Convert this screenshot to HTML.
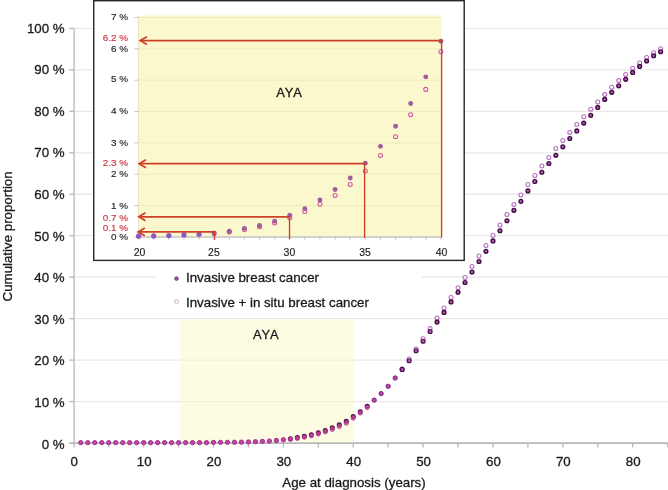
<!DOCTYPE html>
<html lang="en">
<head>
<meta charset="utf-8">
<title>Cumulative proportion by age at diagnosis</title>
<style>
html,body{margin:0;padding:0;background:#fff;}
body{width:668px;height:490px;overflow:hidden;}
svg{display:block;font-family:"Liberation Sans",Arial,Helvetica,sans-serif;}
.ax{font-size:13.3px;fill:#1a1a1a;stroke:#1a1a1a;stroke-width:0.3px;}
.in{font-size:9.9px;fill:#1f1f1f;stroke:#1f1f1f;stroke-width:0.15px;}
.rd{font-size:9.9px;fill:#cf3d45;stroke:#cf3d45;stroke-width:0.2px;}
</style>
</head>
<body>
<svg width="668" height="490" viewBox="0 0 668 490">
<rect x="0" y="0" width="668" height="490" fill="#ffffff"/>

<g stroke="#e9e9e9" stroke-width="1.3">
<line x1="75" y1="401.54" x2="668" y2="401.54"/>
<line x1="75" y1="360.08" x2="668" y2="360.08"/>
<line x1="75" y1="318.62" x2="668" y2="318.62"/>
<line x1="75" y1="277.16" x2="668" y2="277.16"/>
<line x1="75" y1="235.70" x2="668" y2="235.70"/>
<line x1="75" y1="194.24" x2="668" y2="194.24"/>
<line x1="75" y1="152.78" x2="668" y2="152.78"/>
<line x1="75" y1="111.32" x2="668" y2="111.32"/>
<line x1="75" y1="69.86" x2="668" y2="69.86"/>
<line x1="75" y1="28.40" x2="668" y2="28.40"/>
</g>
<rect x="179.9" y="319.42" width="173.9" height="123.18" fill="#fdfce3"/>
<line x1="179.9" y1="401.54" x2="353.8" y2="401.54" stroke="#f1eed3" stroke-width="1"/>
<line x1="179.9" y1="360.08" x2="353.8" y2="360.08" stroke="#f1eed3" stroke-width="1"/>
<g stroke="#b9b9b9" stroke-width="1.3" fill="none">
<line x1="74.1" y1="28.40" x2="74.1" y2="447.3"/>
<line x1="69.3" y1="443.10" x2="668" y2="443.10" stroke-width="1.6"/>
<line x1="69.3" y1="401.54" x2="74.1" y2="401.54"/>
<line x1="69.3" y1="360.08" x2="74.1" y2="360.08"/>
<line x1="69.3" y1="318.62" x2="74.1" y2="318.62"/>
<line x1="69.3" y1="277.16" x2="74.1" y2="277.16"/>
<line x1="69.3" y1="235.70" x2="74.1" y2="235.70"/>
<line x1="69.3" y1="194.24" x2="74.1" y2="194.24"/>
<line x1="69.3" y1="152.78" x2="74.1" y2="152.78"/>
<line x1="69.3" y1="111.32" x2="74.1" y2="111.32"/>
<line x1="69.3" y1="69.86" x2="74.1" y2="69.86"/>
<line x1="69.3" y1="28.40" x2="74.1" y2="28.40"/>
<line x1="108.73" y1="443.00" x2="108.73" y2="447.6"/>
<line x1="143.66" y1="443.00" x2="143.66" y2="447.6"/>
<line x1="178.59" y1="443.00" x2="178.59" y2="447.6"/>
<line x1="213.52" y1="443.00" x2="213.52" y2="447.6"/>
<line x1="248.45" y1="443.00" x2="248.45" y2="447.6"/>
<line x1="283.38" y1="443.00" x2="283.38" y2="447.6"/>
<line x1="318.31" y1="443.00" x2="318.31" y2="447.6"/>
<line x1="353.24" y1="443.00" x2="353.24" y2="447.6"/>
<line x1="388.17" y1="443.00" x2="388.17" y2="447.6"/>
<line x1="423.10" y1="443.00" x2="423.10" y2="447.6"/>
<line x1="458.03" y1="443.00" x2="458.03" y2="447.6"/>
<line x1="492.96" y1="443.00" x2="492.96" y2="447.6"/>
<line x1="527.89" y1="443.00" x2="527.89" y2="447.6"/>
<line x1="562.82" y1="443.00" x2="562.82" y2="447.6"/>
<line x1="597.75" y1="443.00" x2="597.75" y2="447.6"/>
<line x1="632.68" y1="443.00" x2="632.68" y2="447.6"/>
<line x1="667.61" y1="443.00" x2="667.61" y2="447.6"/>
</g>
<g class="ax" text-anchor="end">
<text x="64.6" y="448.55">0 %</text>
<text x="64.6" y="406.97">10 %</text>
<text x="64.6" y="365.39">20 %</text>
<text x="64.6" y="323.81">30 %</text>
<text x="64.6" y="282.23">40 %</text>
<text x="64.6" y="240.65">50 %</text>
<text x="64.6" y="199.07">60 %</text>
<text x="64.6" y="157.49">70 %</text>
<text x="64.6" y="115.91">80 %</text>
<text x="64.6" y="74.33">90 %</text>
<text x="64.6" y="32.75">100 %</text>
</g>
<g class="ax" text-anchor="middle">
<text x="74.30" y="465.9">0</text>
<text x="144.16" y="465.9">10</text>
<text x="214.02" y="465.9">20</text>
<text x="283.88" y="465.9">30</text>
<text x="353.74" y="465.9">40</text>
<text x="423.60" y="465.9">50</text>
<text x="493.46" y="465.9">60</text>
<text x="563.32" y="465.9">70</text>
<text x="633.18" y="465.9">80</text>
<text x="354" y="487.0">Age at diagnosis (years)</text>
<text transform="translate(11.6,236.4) rotate(-90)">Cumulative proportion</text>
</g>
<rect x="155" y="262" width="266.5" height="55.6" fill="#ffffff"/>
<text class="ax" x="253.1" y="339.1" style="font-size:12.9px" letter-spacing="0.85">AYA</text>
<g>
<circle cx="80.79" cy="442.65" r="2.15" fill="#c445aa" stroke="#9e2e8e" stroke-width="1.0"/>
<circle cx="87.77" cy="442.65" r="2.15" fill="#c445aa" stroke="#9e2e8e" stroke-width="1.0"/>
<circle cx="94.76" cy="442.65" r="2.15" fill="#c445aa" stroke="#9e2e8e" stroke-width="1.0"/>
<circle cx="101.74" cy="442.65" r="2.15" fill="#c445aa" stroke="#9e2e8e" stroke-width="1.0"/>
<circle cx="108.73" cy="442.65" r="2.15" fill="#c445aa" stroke="#9e2e8e" stroke-width="1.0"/>
<circle cx="115.72" cy="442.65" r="2.15" fill="#c445aa" stroke="#9e2e8e" stroke-width="1.0"/>
<circle cx="122.70" cy="442.65" r="2.15" fill="#c445aa" stroke="#9e2e8e" stroke-width="1.0"/>
<circle cx="129.69" cy="442.65" r="2.15" fill="#c445aa" stroke="#9e2e8e" stroke-width="1.0"/>
<circle cx="136.67" cy="442.65" r="2.15" fill="#c445aa" stroke="#9e2e8e" stroke-width="1.0"/>
<circle cx="143.66" cy="442.65" r="2.15" fill="#c445aa" stroke="#9e2e8e" stroke-width="1.0"/>
<circle cx="150.65" cy="442.65" r="2.15" fill="#c445aa" stroke="#9e2e8e" stroke-width="1.0"/>
<circle cx="157.63" cy="442.65" r="2.15" fill="#c445aa" stroke="#9e2e8e" stroke-width="1.0"/>
<circle cx="164.62" cy="442.65" r="2.15" fill="#c445aa" stroke="#9e2e8e" stroke-width="1.0"/>
<circle cx="171.60" cy="442.65" r="2.15" fill="#c445aa" stroke="#9e2e8e" stroke-width="1.0"/>
<circle cx="178.59" cy="442.65" r="2.15" fill="#c445aa" stroke="#9e2e8e" stroke-width="1.0"/>
<circle cx="185.58" cy="442.65" r="2.15" fill="#c445aa" stroke="#9e2e8e" stroke-width="1.0"/>
<circle cx="192.56" cy="442.65" r="2.15" fill="#c445aa" stroke="#9e2e8e" stroke-width="1.0"/>
<circle cx="199.55" cy="442.65" r="2.15" fill="#c445aa" stroke="#9e2e8e" stroke-width="1.0"/>
<circle cx="206.53" cy="442.65" r="2.15" fill="#c445aa" stroke="#9e2e8e" stroke-width="1.0"/>
<circle cx="213.52" cy="442.40" r="2.15" fill="#c445aa" stroke="#9e2e8e" stroke-width="1.0"/>
<circle cx="220.51" cy="442.36" r="2.15" fill="#c445aa" stroke="#9e2e8e" stroke-width="1.0"/>
<circle cx="227.49" cy="442.32" r="2.15" fill="#c445aa" stroke="#9e2e8e" stroke-width="1.0"/>
<circle cx="234.48" cy="442.25" r="2.15" fill="#c445aa" stroke="#9e2e8e" stroke-width="1.0"/>
<circle cx="241.46" cy="442.17" r="2.15" fill="#c445aa" stroke="#9e2e8e" stroke-width="1.0"/>
<circle cx="248.45" cy="441.99" r="2.15" fill="#c445aa" stroke="#9e2e8e" stroke-width="1.0"/>
<circle cx="255.44" cy="441.76" r="2.15" fill="#c445aa" stroke="#9e2e8e" stroke-width="1.0"/>
<circle cx="262.42" cy="441.40" r="2.15" fill="#c445aa" stroke="#9e2e8e" stroke-width="1.0"/>
<circle cx="269.41" cy="441.03" r="2.15" fill="#c445aa" stroke="#9e2e8e" stroke-width="1.0"/>
<circle cx="276.39" cy="440.49" r="2.15" fill="#c445aa" stroke="#9e2e8e" stroke-width="1.0"/>
<circle cx="283.38" cy="439.75" r="2.15" fill="#c445aa" stroke="#9e2e8e" stroke-width="1.0"/>
<circle cx="290.37" cy="438.71" r="1.9" fill="#c0429e" stroke="#4a1244" stroke-width="1.25"/>
<circle cx="290.37" cy="439.38" r="2.0" fill="#d04aa4" fill-opacity="0.6" stroke="#b63a92" stroke-width="0.95"/>
<circle cx="297.35" cy="437.55" r="1.9" fill="#c0429e" stroke="#4a1244" stroke-width="1.25"/>
<circle cx="297.35" cy="438.43" r="2.0" fill="#d04aa4" fill-opacity="0.6" stroke="#b63a92" stroke-width="0.95"/>
<circle cx="304.34" cy="436.18" r="1.9" fill="#c0429e" stroke="#4a1244" stroke-width="1.25"/>
<circle cx="304.34" cy="437.27" r="2.0" fill="#d04aa4" fill-opacity="0.6" stroke="#b63a92" stroke-width="0.95"/>
<circle cx="311.32" cy="434.65" r="1.9" fill="#c0429e" stroke="#4a1244" stroke-width="1.25"/>
<circle cx="311.32" cy="435.82" r="2.0" fill="#d04aa4" fill-opacity="0.6" stroke="#b63a92" stroke-width="0.95"/>
<circle cx="318.31" cy="432.70" r="1.9" fill="#c0429e" stroke="#4a1244" stroke-width="1.25"/>
<circle cx="318.31" cy="434.03" r="2.0" fill="#d04aa4" fill-opacity="0.6" stroke="#b63a92" stroke-width="0.95"/>
<circle cx="325.30" cy="430.46" r="1.9" fill="#c0429e" stroke="#4a1244" stroke-width="1.25"/>
<circle cx="325.30" cy="431.96" r="2.0" fill="#d04aa4" fill-opacity="0.6" stroke="#b63a92" stroke-width="0.95"/>
<circle cx="332.28" cy="427.81" r="1.9" fill="#c0429e" stroke="#4a1244" stroke-width="1.25"/>
<circle cx="332.28" cy="429.47" r="2.0" fill="#d04aa4" fill-opacity="0.6" stroke="#b63a92" stroke-width="0.95"/>
<circle cx="339.27" cy="424.78" r="1.9" fill="#c0429e" stroke="#4a1244" stroke-width="1.25"/>
<circle cx="339.27" cy="426.57" r="2.0" fill="#d04aa4" fill-opacity="0.6" stroke="#b63a92" stroke-width="0.95"/>
<circle cx="346.25" cy="421.26" r="1.9" fill="#c0429e" stroke="#4a1244" stroke-width="1.25"/>
<circle cx="346.25" cy="423.21" r="2.0" fill="#d04aa4" fill-opacity="0.6" stroke="#b63a92" stroke-width="0.95"/>
<circle cx="353.24" cy="416.53" r="1.9" fill="#c0429e" stroke="#4a1244" stroke-width="1.25"/>
<circle cx="353.24" cy="418.24" r="2.0" fill="#d04aa4" fill-opacity="0.6" stroke="#b63a92" stroke-width="0.95"/>
<circle cx="360.23" cy="411.80" r="1.9" fill="#c0429e" stroke="#4a1244" stroke-width="1.25"/>
<circle cx="360.23" cy="413.10" r="2.0" fill="#d04aa4" fill-opacity="0.6" stroke="#b63a92" stroke-width="0.95"/>
<circle cx="367.21" cy="406.30" r="1.9" fill="#c0429e" stroke="#4a1244" stroke-width="1.25"/>
<circle cx="367.21" cy="407.50" r="2.0" fill="#d04aa4" fill-opacity="0.6" stroke="#b63a92" stroke-width="0.95"/>
<circle cx="374.20" cy="400.15" r="2.15" fill="#b848b0" stroke="#7a2278" stroke-width="1.0"/>
<circle cx="381.18" cy="393.60" r="2.15" fill="#b848b0" stroke="#7a2278" stroke-width="1.0"/>
<circle cx="388.17" cy="386.30" r="2.15" fill="#b848b0" stroke="#7a2278" stroke-width="1.0"/>
<circle cx="395.16" cy="378.00" r="2.15" fill="#b848b0" stroke="#7a2278" stroke-width="1.0"/>
<circle cx="402.14" cy="368.90" r="2.0" fill="#ffffff" stroke="#b768c0" stroke-width="1.05"/>
<circle cx="402.14" cy="369.40" r="2.0" fill="#bb52b0" stroke="#451048" stroke-width="1.15"/>
<circle cx="409.13" cy="359.00" r="2.0" fill="#ffffff" stroke="#b768c0" stroke-width="1.05"/>
<circle cx="409.13" cy="360.70" r="2.0" fill="#bb52b0" stroke="#451048" stroke-width="1.15"/>
<circle cx="416.11" cy="349.00" r="2.0" fill="#ffffff" stroke="#b768c0" stroke-width="1.05"/>
<circle cx="416.11" cy="350.70" r="2.0" fill="#bb52b0" stroke="#451048" stroke-width="1.15"/>
<circle cx="423.10" cy="338.80" r="2.0" fill="#ffffff" stroke="#b768c0" stroke-width="1.05"/>
<circle cx="423.10" cy="341.20" r="2.0" fill="#bb52b0" stroke="#451048" stroke-width="1.15"/>
<circle cx="430.09" cy="328.60" r="2.0" fill="#ffffff" stroke="#b768c0" stroke-width="1.05"/>
<circle cx="430.09" cy="331.50" r="2.0" fill="#bb52b0" stroke="#451048" stroke-width="1.15"/>
<circle cx="437.07" cy="317.90" r="2.0" fill="#ffffff" stroke="#b768c0" stroke-width="1.05"/>
<circle cx="437.07" cy="322.10" r="1.9" fill="#b655b3" stroke="#3c0c3e" stroke-width="1.35"/>
<circle cx="444.06" cy="307.90" r="2.0" fill="#ffffff" stroke="#b768c0" stroke-width="1.05"/>
<circle cx="444.06" cy="312.40" r="1.9" fill="#b655b3" stroke="#3c0c3e" stroke-width="1.35"/>
<circle cx="451.04" cy="297.40" r="2.0" fill="#ffffff" stroke="#b768c0" stroke-width="1.05"/>
<circle cx="451.04" cy="301.90" r="1.9" fill="#b655b3" stroke="#3c0c3e" stroke-width="1.35"/>
<circle cx="458.03" cy="287.70" r="2.0" fill="#ffffff" stroke="#b768c0" stroke-width="1.05"/>
<circle cx="458.03" cy="292.20" r="1.9" fill="#b655b3" stroke="#3c0c3e" stroke-width="1.35"/>
<circle cx="465.02" cy="277.50" r="2.0" fill="#ffffff" stroke="#b768c0" stroke-width="1.05"/>
<circle cx="465.02" cy="282.50" r="1.9" fill="#b655b3" stroke="#3c0c3e" stroke-width="1.35"/>
<circle cx="472.00" cy="266.50" r="2.0" fill="#ffffff" stroke="#b768c0" stroke-width="1.05"/>
<circle cx="472.00" cy="272.00" r="1.9" fill="#b655b3" stroke="#3c0c3e" stroke-width="1.35"/>
<circle cx="478.99" cy="256.00" r="2.0" fill="#ffffff" stroke="#b768c0" stroke-width="1.05"/>
<circle cx="478.99" cy="261.50" r="1.9" fill="#b655b3" stroke="#3c0c3e" stroke-width="1.35"/>
<circle cx="485.97" cy="245.50" r="2.0" fill="#ffffff" stroke="#b768c0" stroke-width="1.05"/>
<circle cx="485.97" cy="251.30" r="1.9" fill="#b655b3" stroke="#3c0c3e" stroke-width="1.35"/>
<circle cx="492.96" cy="235.50" r="2.0" fill="#ffffff" stroke="#b768c0" stroke-width="1.05"/>
<circle cx="492.96" cy="240.90" r="1.9" fill="#b655b3" stroke="#3c0c3e" stroke-width="1.35"/>
<circle cx="499.95" cy="224.90" r="2.0" fill="#ffffff" stroke="#b768c0" stroke-width="1.05"/>
<circle cx="499.95" cy="230.70" r="1.9" fill="#b655b3" stroke="#3c0c3e" stroke-width="1.35"/>
<circle cx="506.93" cy="214.50" r="2.0" fill="#ffffff" stroke="#b768c0" stroke-width="1.05"/>
<circle cx="506.93" cy="220.70" r="1.9" fill="#b655b3" stroke="#3c0c3e" stroke-width="1.35"/>
<circle cx="513.92" cy="204.40" r="2.0" fill="#ffffff" stroke="#b768c0" stroke-width="1.05"/>
<circle cx="513.92" cy="210.30" r="1.9" fill="#b655b3" stroke="#3c0c3e" stroke-width="1.35"/>
<circle cx="520.90" cy="194.90" r="2.0" fill="#ffffff" stroke="#b768c0" stroke-width="1.05"/>
<circle cx="520.90" cy="201.30" r="1.9" fill="#b655b3" stroke="#3c0c3e" stroke-width="1.35"/>
<circle cx="527.89" cy="184.50" r="2.0" fill="#ffffff" stroke="#b768c0" stroke-width="1.05"/>
<circle cx="527.89" cy="190.90" r="1.9" fill="#b655b3" stroke="#3c0c3e" stroke-width="1.35"/>
<circle cx="534.88" cy="175.50" r="2.0" fill="#ffffff" stroke="#b768c0" stroke-width="1.05"/>
<circle cx="534.88" cy="181.50" r="1.9" fill="#b655b3" stroke="#3c0c3e" stroke-width="1.35"/>
<circle cx="541.86" cy="166.00" r="2.0" fill="#ffffff" stroke="#b768c0" stroke-width="1.05"/>
<circle cx="541.86" cy="172.20" r="1.9" fill="#b655b3" stroke="#3c0c3e" stroke-width="1.35"/>
<circle cx="548.85" cy="157.40" r="2.0" fill="#ffffff" stroke="#b768c0" stroke-width="1.05"/>
<circle cx="548.85" cy="163.50" r="1.9" fill="#b655b3" stroke="#3c0c3e" stroke-width="1.35"/>
<circle cx="555.83" cy="148.50" r="2.0" fill="#ffffff" stroke="#b768c0" stroke-width="1.05"/>
<circle cx="555.83" cy="155.30" r="1.9" fill="#b655b3" stroke="#3c0c3e" stroke-width="1.35"/>
<circle cx="562.82" cy="140.50" r="2.0" fill="#ffffff" stroke="#b768c0" stroke-width="1.05"/>
<circle cx="562.82" cy="146.80" r="1.9" fill="#b655b3" stroke="#3c0c3e" stroke-width="1.35"/>
<circle cx="569.81" cy="132.50" r="2.0" fill="#ffffff" stroke="#b768c0" stroke-width="1.05"/>
<circle cx="569.81" cy="138.50" r="1.9" fill="#b655b3" stroke="#3c0c3e" stroke-width="1.35"/>
<circle cx="576.79" cy="124.50" r="2.0" fill="#ffffff" stroke="#b768c0" stroke-width="1.05"/>
<circle cx="576.79" cy="130.90" r="1.9" fill="#b655b3" stroke="#3c0c3e" stroke-width="1.35"/>
<circle cx="583.78" cy="116.70" r="2.0" fill="#ffffff" stroke="#b768c0" stroke-width="1.05"/>
<circle cx="583.78" cy="123.10" r="1.9" fill="#b655b3" stroke="#3c0c3e" stroke-width="1.35"/>
<circle cx="590.76" cy="109.20" r="2.0" fill="#ffffff" stroke="#b768c0" stroke-width="1.05"/>
<circle cx="590.76" cy="115.30" r="1.9" fill="#b655b3" stroke="#3c0c3e" stroke-width="1.35"/>
<circle cx="597.75" cy="101.90" r="2.0" fill="#ffffff" stroke="#b768c0" stroke-width="1.05"/>
<circle cx="597.75" cy="107.40" r="1.9" fill="#b655b3" stroke="#3c0c3e" stroke-width="1.35"/>
<circle cx="604.74" cy="94.60" r="2.0" fill="#ffffff" stroke="#b768c0" stroke-width="1.05"/>
<circle cx="604.74" cy="99.40" r="1.9" fill="#b655b3" stroke="#3c0c3e" stroke-width="1.35"/>
<circle cx="611.72" cy="87.20" r="2.0" fill="#ffffff" stroke="#b768c0" stroke-width="1.05"/>
<circle cx="611.72" cy="92.30" r="1.9" fill="#b655b3" stroke="#3c0c3e" stroke-width="1.35"/>
<circle cx="618.71" cy="80.60" r="2.0" fill="#ffffff" stroke="#b768c0" stroke-width="1.05"/>
<circle cx="618.71" cy="85.80" r="1.9" fill="#b655b3" stroke="#3c0c3e" stroke-width="1.35"/>
<circle cx="625.69" cy="74.50" r="2.0" fill="#ffffff" stroke="#b768c0" stroke-width="1.05"/>
<circle cx="625.69" cy="79.30" r="1.9" fill="#b655b3" stroke="#3c0c3e" stroke-width="1.35"/>
<circle cx="632.68" cy="68.30" r="2.0" fill="#ffffff" stroke="#b768c0" stroke-width="1.05"/>
<circle cx="632.68" cy="72.40" r="1.9" fill="#b655b3" stroke="#3c0c3e" stroke-width="1.35"/>
<circle cx="639.67" cy="62.90" r="2.0" fill="#ffffff" stroke="#b768c0" stroke-width="1.05"/>
<circle cx="639.67" cy="66.40" r="1.9" fill="#b655b3" stroke="#3c0c3e" stroke-width="1.35"/>
<circle cx="646.65" cy="57.40" r="2.0" fill="#ffffff" stroke="#b768c0" stroke-width="1.05"/>
<circle cx="646.65" cy="61.00" r="1.9" fill="#b655b3" stroke="#3c0c3e" stroke-width="1.35"/>
<circle cx="653.64" cy="52.80" r="2.0" fill="#ffffff" stroke="#b768c0" stroke-width="1.05"/>
<circle cx="653.64" cy="55.70" r="1.9" fill="#b655b3" stroke="#3c0c3e" stroke-width="1.35"/>
<circle cx="660.62" cy="48.70" r="2.0" fill="#ffffff" stroke="#b768c0" stroke-width="1.05"/>
<circle cx="660.62" cy="51.70" r="1.9" fill="#b655b3" stroke="#3c0c3e" stroke-width="1.35"/>
</g>
<rect x="93.75" y="0.7" width="370.45" height="259.7" fill="#ffffff" stroke="#262626" stroke-width="1.4"/>
<rect x="138.7" y="15.5" width="302.9" height="221.00" fill="#fbf8cd"/>
<g stroke="#eeebc1" stroke-width="1">
<line x1="138.7" y1="205.55" x2="441.6" y2="205.55"/>
<line x1="138.7" y1="174.20" x2="441.6" y2="174.20"/>
<line x1="138.7" y1="142.85" x2="441.6" y2="142.85"/>
<line x1="138.7" y1="111.50" x2="441.6" y2="111.50"/>
<line x1="138.7" y1="80.15" x2="441.6" y2="80.15"/>
<line x1="138.7" y1="48.80" x2="441.6" y2="48.80"/>
<line x1="138.7" y1="17.45" x2="441.6" y2="17.45"/>
</g>
<g stroke="#c4c4c0" stroke-width="1">
<line x1="134.5" y1="236.90" x2="138.60" y2="236.90"/>
<line x1="134.5" y1="205.55" x2="138.60" y2="205.55"/>
<line x1="134.5" y1="174.20" x2="138.60" y2="174.20"/>
<line x1="134.5" y1="142.85" x2="138.60" y2="142.85"/>
<line x1="134.5" y1="111.50" x2="138.60" y2="111.50"/>
<line x1="134.5" y1="80.15" x2="138.60" y2="80.15"/>
<line x1="134.5" y1="48.80" x2="138.60" y2="48.80"/>
<line x1="134.5" y1="17.45" x2="138.60" y2="17.45"/>
<line x1="138.2" y1="237.00" x2="441.6" y2="237.00" stroke-width="1.5"/>
<line x1="138.60" y1="236.50" x2="138.60" y2="239.70"/>
<line x1="153.72" y1="236.50" x2="153.72" y2="239.70"/>
<line x1="168.83" y1="236.50" x2="168.83" y2="239.70"/>
<line x1="183.94" y1="236.50" x2="183.94" y2="239.70"/>
<line x1="199.06" y1="236.50" x2="199.06" y2="239.70"/>
<line x1="214.18" y1="236.50" x2="214.18" y2="239.70"/>
<line x1="229.29" y1="236.50" x2="229.29" y2="239.70"/>
<line x1="244.41" y1="236.50" x2="244.41" y2="239.70"/>
<line x1="259.52" y1="236.50" x2="259.52" y2="239.70"/>
<line x1="274.63" y1="236.50" x2="274.63" y2="239.70"/>
<line x1="289.75" y1="236.50" x2="289.75" y2="239.70"/>
<line x1="304.87" y1="236.50" x2="304.87" y2="239.70"/>
<line x1="319.98" y1="236.50" x2="319.98" y2="239.70"/>
<line x1="335.10" y1="236.50" x2="335.10" y2="239.70"/>
<line x1="350.21" y1="236.50" x2="350.21" y2="239.70"/>
<line x1="365.32" y1="236.50" x2="365.32" y2="239.70"/>
<line x1="380.44" y1="236.50" x2="380.44" y2="239.70"/>
<line x1="395.55" y1="236.50" x2="395.55" y2="239.70"/>
<line x1="410.67" y1="236.50" x2="410.67" y2="239.70"/>
<line x1="425.78" y1="236.50" x2="425.78" y2="239.70"/>
<line x1="440.90" y1="236.50" x2="440.90" y2="239.70"/>
</g>
<line x1="138.60" y1="16" x2="138.60" y2="236.50" stroke="#e6e3c0" stroke-width="1"/>
<g class="in" text-anchor="end">
<text x="128" y="239.75">0 %</text>
<text x="128" y="208.60">1 %</text>
<text x="128" y="176.90">2 %</text>
<text x="128" y="145.95">3 %</text>
<text x="128" y="113.65">4 %</text>
<text x="128" y="82.35">5 %</text>
<text x="128" y="51.55">6 %</text>
<text x="128" y="20.35">7 %</text>
</g>
<g class="rd" text-anchor="end">
<text x="128" y="41.45">6.2 %</text>
<text x="128" y="166.20">2.3 %</text>
<text x="128" y="220.55">0.7 %</text>
<text x="128" y="231.15">0.1 %</text>
</g>
<g class="in" text-anchor="middle">
<text x="139.50" y="255.7" style="font-size:10.5px">20</text>
<text x="213.90" y="255.7" style="font-size:10.5px">25</text>
<text x="289.40" y="255.7" style="font-size:10.5px">30</text>
<text x="365.00" y="255.7" style="font-size:10.5px">35</text>
<text x="441.60" y="255.7" style="font-size:10.5px">40</text>
</g>
<text class="ax" x="276.3" y="96.6" style="font-size:12.9px" letter-spacing="0.85">AYA</text>
<g>
<circle cx="138.60" cy="236.20" r="2.6" fill="#8f55c0"/>
<circle cx="153.72" cy="235.89" r="2.6" fill="#8f55c0"/>
<circle cx="168.83" cy="235.57" r="2.6" fill="#8f55c0"/>
<circle cx="183.94" cy="234.95" r="2.6" fill="#8f55c0"/>
<circle cx="199.06" cy="234.32" r="2.6" fill="#8f55c0"/>
<circle cx="214.18" cy="233.68" r="2.0" fill="#fdeef0" stroke="#cb5790" stroke-width="1.05"/>
<circle cx="214.18" cy="233.06" r="2.45" fill="#a05c9b"/>
<circle cx="229.29" cy="232.12" r="2.0" fill="#fdeef0" stroke="#cb5790" stroke-width="1.05"/>
<circle cx="229.29" cy="231.18" r="2.45" fill="#a05c9b"/>
<circle cx="244.41" cy="229.61" r="2.0" fill="#fdeef0" stroke="#cb5790" stroke-width="1.05"/>
<circle cx="244.41" cy="228.36" r="2.45" fill="#a05c9b"/>
<circle cx="259.52" cy="226.80" r="2.0" fill="#fdeef0" stroke="#cb5790" stroke-width="1.05"/>
<circle cx="259.52" cy="225.54" r="2.45" fill="#a05c9b"/>
<circle cx="274.63" cy="223.04" r="2.0" fill="#fdeef0" stroke="#cb5790" stroke-width="1.05"/>
<circle cx="274.63" cy="221.16" r="2.45" fill="#a05c9b"/>
<circle cx="289.75" cy="217.72" r="2.0" fill="#fdeef0" stroke="#cb5790" stroke-width="1.05"/>
<circle cx="289.75" cy="215.22" r="2.45" fill="#a05c9b"/>
<circle cx="304.87" cy="211.46" r="2.0" fill="#fdeef0" stroke="#cb5790" stroke-width="1.05"/>
<circle cx="304.87" cy="208.64" r="2.45" fill="#a05c9b"/>
<circle cx="319.98" cy="204.26" r="2.0" fill="#fdeef0" stroke="#cb5790" stroke-width="1.05"/>
<circle cx="319.98" cy="199.88" r="2.45" fill="#a05c9b"/>
<circle cx="335.10" cy="195.50" r="2.0" fill="#fdeef0" stroke="#cb5790" stroke-width="1.05"/>
<circle cx="335.10" cy="189.55" r="2.45" fill="#a05c9b"/>
<circle cx="350.21" cy="184.54" r="2.0" fill="#fdeef0" stroke="#cb5790" stroke-width="1.05"/>
<circle cx="350.21" cy="177.97" r="2.45" fill="#a05c9b"/>
<circle cx="365.32" cy="171.08" r="2.0" fill="#fdeef0" stroke="#cb5790" stroke-width="1.05"/>
<circle cx="365.32" cy="163.26" r="2.45" fill="#a05c9b"/>
<circle cx="380.44" cy="155.43" r="2.0" fill="#fdeef0" stroke="#cb5790" stroke-width="1.05"/>
<circle cx="380.44" cy="146.36" r="2.45" fill="#a05c9b"/>
<circle cx="395.55" cy="136.65" r="2.0" fill="#fdeef0" stroke="#cb5790" stroke-width="1.05"/>
<circle cx="395.55" cy="126.32" r="2.45" fill="#a05c9b"/>
<circle cx="410.67" cy="114.74" r="2.0" fill="#fdeef0" stroke="#cb5790" stroke-width="1.05"/>
<circle cx="410.67" cy="103.47" r="2.45" fill="#a05c9b"/>
<circle cx="425.78" cy="89.39" r="2.0" fill="#fdeef0" stroke="#cb5790" stroke-width="1.05"/>
<circle cx="425.78" cy="76.87" r="2.45" fill="#a05c9b"/>
<circle cx="440.90" cy="51.83" r="2.0" fill="#fdeef0" stroke="#cb5790" stroke-width="1.05"/>
<circle cx="440.90" cy="41.19" r="2.45" fill="#a05c9b"/>
</g>
<g stroke="#cd4129" fill="none" stroke-linejoin="miter">
<path d="M441.60 39.75 V237.60" stroke-width="1.35"/>
<path d="M140.60 40.60 H442.27" stroke-width="1.75"/>
<path d="M146.90 36.65 L140.20 40.60 L146.90 44.55" stroke-width="1.75"/>
<path d="M364.60 162.85 V238.00" stroke-width="1.35"/>
<path d="M139.60 163.70 H365.27" stroke-width="1.75"/>
<path d="M145.90 159.75 L139.20 163.70 L145.90 167.65" stroke-width="1.75"/>
<path d="M289.50 215.95 V239.20" stroke-width="1.35"/>
<path d="M139.20 216.80 H290.17" stroke-width="1.75"/>
<path d="M145.50 212.85 L138.80 216.80 L145.50 220.75" stroke-width="1.75"/>
<path d="M214.50 231.05 V239.80" stroke-width="1.35"/>
<path d="M138.50 231.90 H215.17" stroke-width="1.75"/>
<path d="M144.80 227.95 L138.10 231.90 L144.80 235.85" stroke-width="1.75"/>
</g>
<circle cx="176.5" cy="278.6" r="1.8" fill="#a552a2" stroke="#7f3a80" stroke-width="1.0"/>
<circle cx="176.5" cy="301.6" r="1.9" fill="#ffffff" stroke="#cf98cf" stroke-width="0.9"/>
<text class="ax" x="186" y="281.9">Invasive breast cancer</text>
<text class="ax" x="186" y="306.8">Invasive + in situ breast cancer</text>
</svg>
</body>
</html>
